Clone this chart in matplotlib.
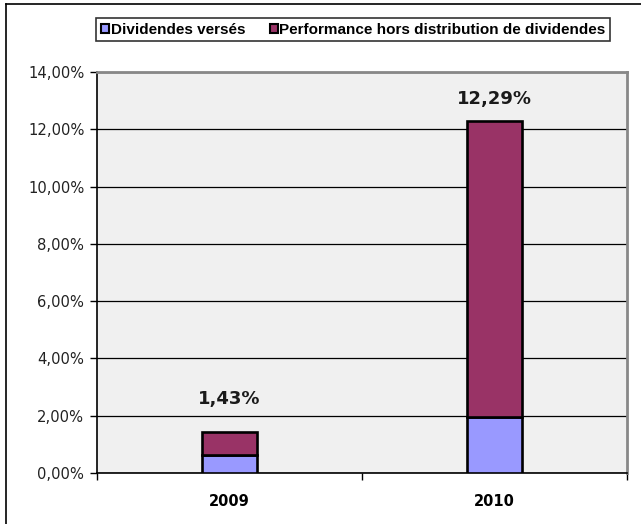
import matplotlib.pyplot as plt
from matplotlib.patches import Patch
from matplotlib.lines import Line2D
from matplotlib.ticker import FuncFormatter

# Data
years = ['2009', '2010']
dividendes = [0.64, 1.95]
performance = [0.79, 10.34]
totals = ['1,43%', '12,29%']
series_names = ['Dividendes versés', 'Performance hors distribution de dividendes']
label_offsets = [24, 16]  # points above the bar top

col_div = '#9999FF'
col_perf = '#993366'

fig = plt.figure(figsize=(6.41, 5.24), dpi=100)
ax = fig.add_axes([0.1513, 0.0973, 0.978 - 0.1513, 0.8626 - 0.0973])
ax.set_facecolor('#F0F0F0')

x = list(range(len(years)))
tot = [d + p for d, p in zip(dividendes, performance)]

# Gridlines
ax.set_ylim(0, 14)
ax.set_xlim(-0.5, 1.5)
ax.set_yticks(range(0, 15, 2))
ax.yaxis.grid(True, color='black', linewidth=0.9)
ax.set_axisbelow(True)

ax.bar(x, dividendes, width=0.205, color=col_div, edgecolor='black', linewidth=1.9, zorder=3)
ax.bar(x, performance, width=0.205, bottom=dividendes, color=col_perf,
       edgecolor='black', linewidth=1.9, zorder=3)

for xi, t, lab, off in zip(x, tot, totals, label_offsets):
    ax.annotate(lab, (xi, t), xytext=(0, off), textcoords='offset points',
                ha='center', va='center', fontsize=13, fontweight='bold',
                family='DejaVu Sans', color='#1a1a1a')

# Axes styling
ax.yaxis.set_major_formatter(FuncFormatter(lambda v, p: f'{v:.2f}'.replace('.', ',') + '%'))
ax.tick_params(axis='y', direction='out', length=5, width=1, labelsize=10.6, pad=4)
for t in ax.get_yticklabels():
    t.set_family('DejaVu Sans')
    t.set_color('#222222')

ax.set_xticks(x)
ax.set_xticklabels(years, fontsize=10.5, fontweight='bold', family='DejaVu Sans')
ax.set_xticks([-0.5, 0.5, 1.5], minor=True)
ax.tick_params(axis='x', which='major', length=0, pad=15)
ax.tick_params(axis='x', which='minor', direction='out', length=5, width=1)

ax.spines['left'].set_color('black')
ax.spines['left'].set_linewidth(1.2)
ax.spines['bottom'].set_color('black')
ax.spines['bottom'].set_linewidth(1.2)
ax.spines['right'].set_color('#888888')
ax.spines['right'].set_linewidth(2)
ax.spines['top'].set_color('#888888')
ax.spines['top'].set_linewidth(2)

# Legend
handles = [Patch(facecolor=col_div, edgecolor='black', linewidth=1.5),
           Patch(facecolor=col_perf, edgecolor='black', linewidth=1.5)]
leg = fig.legend(handles, series_names, loc='center', bbox_to_anchor=(0.551, 0.943),
                 ncol=2, frameon=True, fancybox=False, edgecolor='black',
                 handlelength=0.55, handleheight=0.55, handletextpad=0.1,
                 columnspacing=1.6, borderpad=0.3, borderaxespad=0,
                 prop={'family': 'Liberation Sans', 'weight': 'bold', 'size': 11})
leg.get_frame().set_linewidth(1.2)

# Outer frame (left and top only visible)
fig.add_artist(Line2D([0.009, 0.009], [0, 0.993], color='black', linewidth=1.2))
fig.add_artist(Line2D([0.009, 1], [0.993, 0.993], color='black', linewidth=1.2))

fig.savefig('out.png', dpi=100)
